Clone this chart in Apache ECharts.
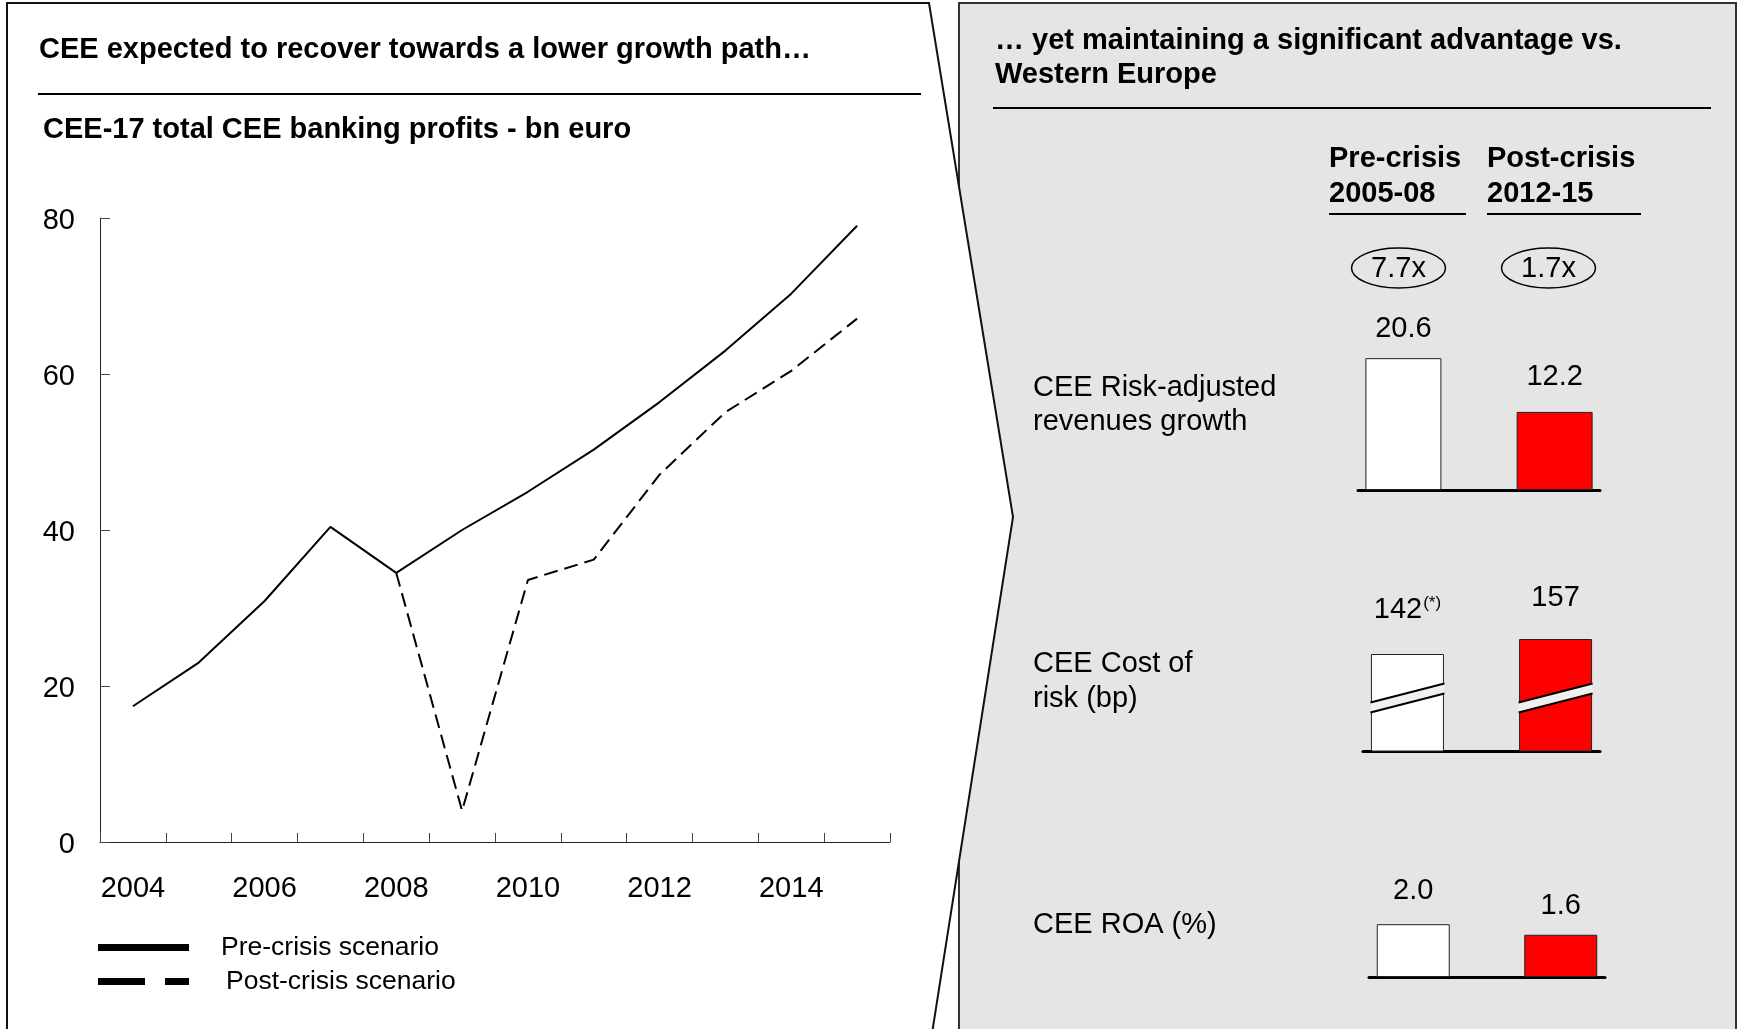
<!DOCTYPE html>
<html>
<head>
<meta charset="utf-8">
<title>CEE banking profits</title>
<script src="https://cdn.jsdelivr.net/npm/echarts@6/dist/echarts.min.js"></script>
<style>
  html, body { margin: 0; padding: 0; background: #fff; }
  #chart { width: 1738px; height: 1029px; }
</style>
</head>
<body>
<div id="chart"></div>
<script>
// left panel: CEE-17 total CEE banking profits, bn euro
const years = ['2004', '2005', '2006', '2007', '2008', '2009', '2010', '2011', '2012', '2013', '2014', '2015']
const preCrisis = [17.4, 23.0, 30.9, 40.4, 34.5, 40.0, 44.9, 50.3, 56.4, 63.0, 70.3, 79.0]
const postCrisis = [null, null, null, null, 34.5, 4.0, 33.6, 36.2, 47.1, 55.1, 60.4, 67.1]
const seriesNames = ['Pre-crisis scenario', 'Post-crisis scenario']

// right panel: pre- vs post-crisis KPIs
const periods = ['Pre-crisis\n2005-08', 'Post-crisis\n2012-15']
const multiples = ['7.7x', '1.7x']
const metrics = ['CEE Risk-adjusted\nrevenues growth', 'CEE Cost of\nrisk (bp)', 'CEE ROA (%)']
const revenueGrowth = [20.6, 12.2]
const costOfRisk = [142, 157]
const costNotes = ['(*)', '']
const costBreak = 98 // where the broken-axis mark sits
const roa = [2.0, 1.6]

const FONT = '"Liberation Sans", Arial, Helvetica, sans-serif'
const barFill = ['#ffffff', '#ff0000']

const chart = echarts.init(document.getElementById('chart'))

function text(str, x, y, opt) {
  return {
    type: 'text', x: x, y: y, z: 5,
    style: Object.assign({
      text: str, fontFamily: FONT, fontSize: 29, fill: '#000',
      align: 'left', verticalAlign: 'middle', textAlign: 'left', textVerticalAlign: 'middle'
    }, opt || {})
  }
}
function rule(x1, y1, x2, y2, w) {
  return { type: 'line', z: 4, shape: { x1: x1, y1: y1, x2: x2, y2: y2 }, style: { stroke: '#000', lineWidth: w || 2 }}
}

// bar grids on the right (pre at x=0, post at x=1)
const barGrids = [
  { left: 1358, top: 330, width: 242, height: 160 },
  { left: 1363, top: 636, width: 237, height: 115 },
  { left: 1369, top: 911, width: 236, height: 66 }
]
const barRanges = [[0, 25], [45, 160], [0, 2.5]]
const barWidths = [76, 73, 73]
const labelGap = [[15, 20], [30, 27], [19, 14]]

function barSeries(k, values, fmt) {
  return {
    type: 'bar',
    xAxisIndex: k + 1,
    yAxisIndex: k + 1,
    barWidth: barWidths[k],
    data: values.map((v, i) => ({
      value: [i, v],
      itemStyle: { color: barFill[i] },
      label: { distance: labelGap[k][i] }
    })),
    itemStyle: { borderColor: '#222', borderWidth: 1 },
    label: {
      show: true, position: 'top', fontSize: 29, color: '#000', fontFamily: FONT,
      formatter: fmt,
      rich: {
        v: { fontSize: 29, color: '#000', fontFamily: FONT },
        s: { fontSize: 17, color: '#000', fontFamily: FONT, verticalAlign: 'top', padding: [0, 0, 6, 1] }
      }
    },
    silent: true
  }
}

const graphic = [
  // panels
  { type: 'rect', z: -10, shape: { x: 959, y: 3, width: 777, height: 1040 }, style: { fill: '#e5e5e5', stroke: '#333', lineWidth: 2 }},
  { type: 'polygon', z: -9, shape: { points: [[7, 3], [929, 3], [1013, 517], [931, 1040], [7, 1040]] }, style: { fill: '#fff', stroke: '#111', lineWidth: 2 }},
  rule(38, 94, 921, 94),
  rule(993, 108, 1711, 108),
  rule(1329, 214, 1466, 214),
  rule(1487, 214, 1641, 214),
  text('CEE expected to recover towards a lower growth path…', 39, 50, { fontWeight: 'bold' }),
  text('CEE-17 total CEE banking profits - bn euro', 43, 130, { fontWeight: 'bold' }),
  text('… yet maintaining a significant advantage vs.\nWestern Europe', 995, 58, { fontWeight: 'bold', lineHeight: 34 }),
  text(periods[0], 1329, 176, { fontWeight: 'bold', lineHeight: 35 }),
  text(periods[1], 1487, 176, { fontWeight: 'bold', lineHeight: 35 }),
  text(metrics[0], 1033, 404.5, { lineHeight: 34 }),
  text(metrics[1], 1033, 681, { lineHeight: 35 }),
  text(metrics[2], 1033, 925)
]
const ellipseX = [1398.5, 1548.5]
multiples.forEach((m, i) => {
  graphic.push({ type: 'ellipse', z: 4, shape: { cx: ellipseX[i], cy: 268, rx: 47, ry: 20 }, style: { fill: 'none', stroke: '#000', lineWidth: 1.5 }})
  graphic.push(text(m, ellipseX[i], 269, { align: 'center', textAlign: 'center' }))
})

const option = {
  animation: false,
  backgroundColor: '#fff',
  textStyle: { fontFamily: FONT },
  graphic: graphic,
  legend: [
    {
      data: [seriesNames[0]], left: 98, top: 934, padding: 0, orient: 'vertical', selectedMode: false,
      icon: 'rect', itemWidth: 91, itemHeight: 7,
      itemStyle: { color: '#000', borderWidth: 0 },
      textStyle: { fontSize: 26.5, color: '#000', fontFamily: FONT, padding: [0, 0, 0, 27] }
    },
    {
      data: [seriesNames[1]], left: 98, top: 968, padding: 0, orient: 'vertical', selectedMode: false,
      icon: 'path://M0,0H47V7H0Z M67,0H91V7H67Z', itemWidth: 91, itemHeight: 7,
      itemStyle: { color: '#000', borderWidth: 0 },
      textStyle: { fontSize: 26.5, color: '#000', fontFamily: FONT, padding: [0, 0, 0, 32] }
    }
  ],
  grid: [{ left: 100, top: 218, width: 790, height: 624, outerBoundsMode: 'none' }]
    .concat(barGrids.map(g => Object.assign({ outerBoundsMode: 'none' }, g))),
  xAxis: [
    {
      type: 'category', gridIndex: 0, data: years, boundaryGap: true,
      axisLine: { lineStyle: { color: '#222', width: 1 }},
      axisTick: { show: true, inside: true, length: 9, interval: 0, lineStyle: { color: '#444' }},
      axisLabel: { interval: 1, fontSize: 29, color: '#000', margin: 32, fontFamily: FONT },
      splitLine: { show: false }
    }
  ].concat(barGrids.map((g, k) => ({
    type: 'value', gridIndex: k + 1, min: -0.3, max: 1.3,
    axisLine: { show: true, onZero: false, lineStyle: { color: '#000', width: 3 }},
    axisTick: { show: false }, axisLabel: { show: false }, splitLine: { show: false }
  }))),
  yAxis: [
    {
      type: 'value', gridIndex: 0, min: 0, max: 80, interval: 20,
      axisLine: { show: true, lineStyle: { color: '#222', width: 1 }},
      axisTick: { show: true, inside: true, length: 10, lineStyle: { color: '#444' }},
      axisLabel: {
        margin: 25,
        formatter: '{n|{value}}',
        rich: { n: { fontSize: 29, color: '#000', fontFamily: FONT, padding: [5, 0, 0, 0] }}
      },
      splitLine: { show: false }
    }
  ].concat(barRanges.map((r, k) => ({
    type: 'value', gridIndex: k + 1, min: r[0], max: r[1], show: false,
    axisLine: { show: false }, splitLine: { show: false }
  }))),
  series: [
    {
      name: seriesNames[0], type: 'line', xAxisIndex: 0, yAxisIndex: 0,
      data: preCrisis, symbol: 'none', z: 3,
      lineStyle: { color: '#000', width: 2 }, itemStyle: { color: '#000' }
    },
    {
      name: seriesNames[1], type: 'line', xAxisIndex: 0, yAxisIndex: 0,
      data: postCrisis, symbol: 'none', z: 3,
      lineStyle: { color: '#000', width: 2, type: [14, 7] }, itemStyle: { color: '#000' }
    },
    barSeries(0, revenueGrowth, p => p.value[1].toFixed(1)),
    barSeries(1, costOfRisk, p => '{v|' + p.value[1] + '}' + (costNotes[p.dataIndex] ? '{s|' + costNotes[p.dataIndex] + '}' : '')),
    barSeries(2, roa, p => p.value[1].toFixed(1)),
    {
      // broken-axis marks across the cost-of-risk bars
      type: 'custom', xAxisIndex: 2, yAxisIndex: 2, z: 4, clip: false, silent: true,
      data: costOfRisk.map((v, i) => [i, costBreak]),
      renderItem(params, api) {
        const c = api.coord([api.value(0), api.value(1)])
        const hw = 37
        const rise = 9.5
        const gap = 5
        const up = [[c[0] - hw, c[1] + rise - gap], [c[0] + hw, c[1] - rise - gap]]
        const lo = [[c[0] - hw, c[1] + rise + gap], [c[0] + hw, c[1] - rise + gap]]
        return {
          type: 'group',
          children: [
            { type: 'polygon', shape: { points: [up[0], up[1], lo[1], lo[0]] }, style: { fill: '#f0f0f0' }},
            { type: 'line', shape: { x1: up[0][0], y1: up[0][1], x2: up[1][0], y2: up[1][1] }, style: { stroke: '#000', lineWidth: 2 }},
            { type: 'line', shape: { x1: lo[0][0], y1: lo[0][1], x2: lo[1][0], y2: lo[1][1] }, style: { stroke: '#000', lineWidth: 2 }}
          ]
        }
      }
    }
  ]
}

chart.setOption(option)
</script>
</body>
</html>
